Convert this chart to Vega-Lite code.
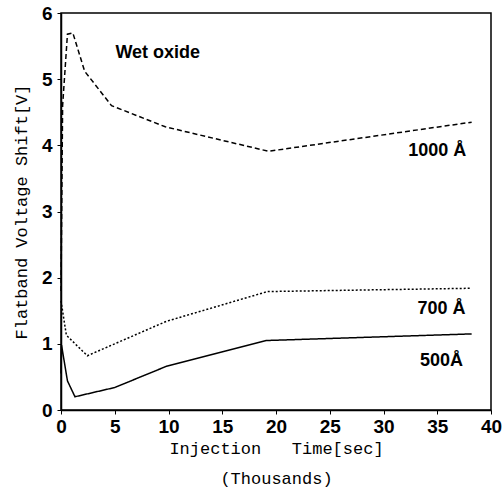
{
  "$schema": "https://vega.github.io/schema/vega-lite/v6.json",
  "width": 430,
  "height": 397,
  "autosize": {"type": "none"},
  "padding": {"left": 61, "top": 13, "right": 11, "bottom": 82},
  "background": "white",
  "config": {
    "view": {"stroke": "black", "strokeWidth": 1.5},
    "axis": {"domainColor": "black", "tickColor": "black", "domainWidth": 1.5, "grid": false}
  },
  "datasets": {
    "lines": [
      {"series": "1000", "x": 0, "y": 1.8},
      {"series": "1000", "x": 0.15, "y": 4.6},
      {"series": "1000", "x": 0.6, "y": 5.68},
      {"series": "1000", "x": 1.1, "y": 5.7},
      {"series": "1000", "x": 2.2, "y": 5.12},
      {"series": "1000", "x": 4.7, "y": 4.6},
      {"series": "1000", "x": 9.7, "y": 4.28},
      {"series": "1000", "x": 19.3, "y": 3.91},
      {"series": "1000", "x": 38.2, "y": 4.35},
      {"series": "700", "x": 0, "y": 1.65},
      {"series": "700", "x": 0.5, "y": 1.13},
      {"series": "700", "x": 2.45, "y": 0.82},
      {"series": "700", "x": 9.8, "y": 1.34},
      {"series": "700", "x": 19.2, "y": 1.79},
      {"series": "700", "x": 38.2, "y": 1.84},
      {"series": "500", "x": 0, "y": 0.55},
      {"series": "500", "x": 0.05, "y": 0.98},
      {"series": "500", "x": 0.6, "y": 0.44},
      {"series": "500", "x": 1.3, "y": 0.2},
      {"series": "500", "x": 5.0, "y": 0.34},
      {"series": "500", "x": 9.8, "y": 0.66},
      {"series": "500", "x": 19.1, "y": 1.05},
      {"series": "500", "x": 38.2, "y": 1.15}
    ],
    "labels": [
      {"label": "1000 Å", "x": 35.0, "y": 3.91},
      {"label": "700 Å", "x": 35.4, "y": 1.52},
      {"label": "500Å", "x": 35.4, "y": 0.74},
      {"label": "Wet oxide", "x": 9.0, "y": 5.4}
    ]
  },
  "layer": [
    {
      "data": {"name": "lines"},
      "mark": {"type": "line", "color": "black", "strokeWidth": 1.5},
      "encoding": {
        "x": {
          "field": "x", "type": "quantitative",
          "scale": {"domain": [0, 40], "nice": false},
          "axis": {
            "values": [0, 5, 10, 15, 20, 25, 30, 35, 40],
            "format": "d",
            "title": ["Injection\u00a0\u00a0\u00a0Time[sec]\u00a0\u00a0", "(Thousands)"],
            "titleFont": "Liberation Mono", "titleFontSize": 17, "titleFontWeight": "normal",
            "titleLineHeight": 30, "titlePadding": 4, "titleColor": "black",
            "labelFont": "Liberation Sans", "labelFontSize": 19, "labelFontWeight": "bold",
            "labelColor": "black", "labelPadding": 3, "tickSize": 4, "labelFlush": false
          }
        },
        "y": {
          "field": "y", "type": "quantitative",
          "scale": {"domain": [0, 6], "nice": false},
          "axis": {
            "values": [0, 1, 2, 3, 4, 5, 6],
            "format": "d",
            "title": "Flatband Voltage Shift[V]",
            "titleFont": "Liberation Mono", "titleFontSize": 17, "titleFontWeight": "normal",
            "titlePadding": 11, "titleColor": "black",
            "labelFont": "Liberation Sans", "labelFontSize": 19, "labelFontWeight": "bold",
            "labelColor": "black", "labelPadding": 5, "tickSize": 4, "labelFlush": false
          }
        },
        "detail": {"field": "series"},
        "strokeDash": {
          "field": "series", "type": "nominal",
          "scale": {"domain": ["1000", "700", "500"], "range": [[5, 3], [2, 2], [1, 0]]},
          "legend": null
        }
      }
    },
    {
      "data": {"name": "labels"},
      "mark": {"type": "text", "font": "Liberation Sans", "fontSize": 18, "fontWeight": "bold", "color": "black", "align": "center", "baseline": "middle"},
      "encoding": {
        "x": {"field": "x", "type": "quantitative"},
        "y": {"field": "y", "type": "quantitative"},
        "text": {"field": "label"}
      }
    }
  ]
}
